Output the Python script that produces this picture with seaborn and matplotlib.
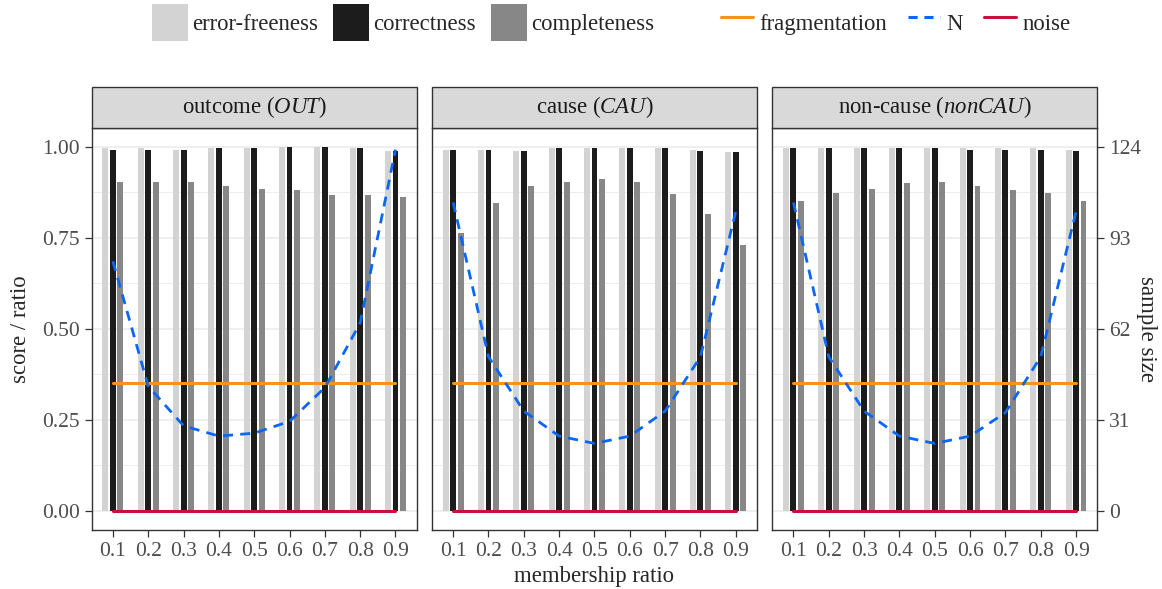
import numpy as np
import pandas as pd
import matplotlib
matplotlib.use("Agg")
import matplotlib.pyplot as plt
import seaborn as sns
from matplotlib.patches import Rectangle, Patch
from matplotlib.lines import Line2D

# membership ratios (x categories)
ratios = ["0.1", "0.2", "0.3", "0.4", "0.5", "0.6", "0.7", "0.8", "0.9"]
metrics = ["error-freeness", "correctness", "completeness"]

# outcome (OUT)
out_error_free = [0.995, 0.995, 0.992, 0.997, 0.997, 1.000, 1.000, 0.997, 0.989]
out_correct    = [0.992, 0.992, 0.992, 0.997, 0.997, 1.000, 1.000, 0.997, 0.989]
out_complete   = [0.902, 0.902, 0.904, 0.893, 0.885, 0.880, 0.866, 0.866, 0.863]
out_n          = [85, 42.5, 29, 25.5, 26.5, 30.5, 42, 64, 123]

# cause (CAU)
cau_error_free = [0.992, 0.992, 0.989, 0.997, 0.995, 0.995, 0.995, 0.992, 0.984]
cau_correct    = [0.992, 0.992, 0.989, 0.995, 0.995, 0.995, 0.995, 0.989, 0.984]
cau_complete   = [0.762, 0.844, 0.893, 0.904, 0.910, 0.902, 0.869, 0.814, 0.730]
cau_n          = [105, 52.5, 34, 25.5, 23, 25.5, 34, 52.5, 102]

# non-cause (nonCAU)
non_error_free = [0.995, 0.995, 0.997, 0.995, 0.995, 0.995, 0.995, 0.995, 0.992]
non_correct    = [0.995, 0.995, 0.997, 0.995, 0.995, 0.992, 0.992, 0.992, 0.989]
non_complete   = [0.852, 0.872, 0.883, 0.899, 0.902, 0.893, 0.880, 0.874, 0.850]
non_n          = [105, 52.5, 34, 25.5, 23, 25.5, 33.5, 52.5, 102]

fragmentation = [0.35, 0.35, 0.35, 0.35, 0.35, 0.35, 0.35, 0.35, 0.35]
noise         = [0.0, 0.0, 0.0, 0.0, 0.0, 0.0, 0.0, 0.0, 0.0]

panel_titles = ["outcome ($\\mathit{OUT}$)", "cause ($\\mathit{CAU}$)",
                "non-cause ($\\mathit{nonCAU}$)"]
panel_bars = [(out_error_free, out_correct, out_complete),
              (cau_error_free, cau_correct, cau_complete),
              (non_error_free, non_correct, non_complete)]
panel_n = [out_n, cau_n, non_n]

bar_colors = ["#D3D3D3", "#1C1C1C", "#878787"]
c_frag, c_n, c_noise = "#F0961E", "#0A66F5", "#C8103C"
n_max = 124

sns.set_theme(style="white")
plt.rcParams["font.family"] = ["Liberation Serif", "DejaVu Serif"]
plt.rcParams["mathtext.fontset"] = "custom"
plt.rcParams["mathtext.rm"] = "Liberation Serif"
plt.rcParams["mathtext.it"] = "Liberation Serif:italic"

fs_tick = 15.5
fs_text = 16.4
fig, axes = plt.subplots(1, 3, figsize=(11.62, 5.89), dpi=100)
fig.subplots_adjust(left=0.0789, right=0.9443, bottom=0.1002, top=0.7832, wspace=0.047)

ylim = (-0.052, 1.052)
strip_h = 40.4 / 402.3
pos = np.arange(len(ratios))
tick_kw = dict(length=5, width=0.9, color="#333333", labelsize=fs_tick,
               labelcolor="#4D4D4D", pad=3.5)

for i, ax in enumerate(axes):
    ef, co, cm = panel_bars[i]
    df = pd.DataFrame({
        "ratio": ratios * 3,
        "metric": [m for m in metrics for _ in ratios],
        "value": list(ef) + list(co) + list(cm),
    })
    # grid
    ax.set_axisbelow(True)
    ax.set_yticks([0, 0.25, 0.5, 0.75, 1.0])
    ax.set_yticks(np.arange(0.125, 1.0, 0.25), minor=True)
    ax.grid(axis="y", which="major", color="#EBEBEB", lw=1.1)
    ax.grid(axis="y", which="minor", color="#EBEBEB", lw=0.6)
    ax.grid(axis="x", which="major", color="#EBEBEB", lw=1.1)

    sns.barplot(data=df, x="ratio", y="value", hue="metric", hue_order=metrics,
                palette=bar_colors, width=0.63, gap=0.2, saturation=1,
                errorbar=None, linewidth=0, legend=False, ax=ax)
    sns.lineplot(x=pos, y=fragmentation, color=c_frag, lw=2.2, ax=ax, zorder=5)
    sns.lineplot(x=pos, y=noise, color=c_noise, lw=2.2, ax=ax, zorder=5)

    ax.set_xlim(-0.6, 8.6)
    ax.set_ylim(*ylim)
    ax.set_xticks(pos)
    ax.set_xticklabels(ratios)
    ax.set_xlabel("")
    ax.set_ylabel("")
    ax.tick_params(axis="x", bottom=True, **tick_kw)
    ax.tick_params(axis="y", which="minor", length=0)
    if i == 0:
        ax.tick_params(axis="y", which="major", left=True, **tick_kw)
    else:
        ax.tick_params(axis="y", which="major", length=0, labelleft=False)
    for s in ax.spines.values():
        s.set_color("#333333")
        s.set_linewidth(1.0)

    # strip
    ax.add_patch(Rectangle((0, 1), 1, strip_h, transform=ax.transAxes,
                           facecolor="#D9D9D9", edgecolor="#333333", lw=1.0,
                           clip_on=False, zorder=10))
    ax.text(0.5, 1 + strip_h / 2, panel_titles[i], transform=ax.transAxes,
            ha="center", va="center", fontsize=fs_text, color="#1A1A1A", zorder=11)

    # sample size on secondary axis
    tw = ax.twinx()
    sns.lineplot(x=pos, y=panel_n[i], color=c_n, lw=2.0,
                 linestyle=(0, (3.6, 2.6)), ax=tw)
    tw.set_ylim(ylim[0] * n_max, ylim[1] * n_max)
    tw.set_xlim(-0.6, 8.6)
    tw.grid(False)
    tw.set_ylabel("")
    for s in tw.spines.values():
        s.set_visible(False)
    if i == 2:
        tw.set_yticks([0, 31, 62, 93, 124])
        tw.tick_params(axis="y", right=True, **tick_kw)
    else:
        tw.set_yticks([])

axes[1].set_xlabel("membership ratio", fontsize=fs_text, labelpad=4)
fig.text(21 / 1162, 1 - 329 / 589, "score / ratio", rotation=90,
         ha="center", va="center", fontsize=fs_text)
fig.text(1147 / 1162, 1 - 329 / 589, "sample size", rotation=270,
         ha="center", va="center", fontsize=fs_text)

# legends
bar_handles = [Patch(facecolor=c, edgecolor="none") for c in bar_colors]
fig.legend(bar_handles, metrics, loc="upper left",
           bbox_to_anchor=(152 / 1162, 1 - 4 / 589), ncol=3, frameon=False,
           fontsize=fs_text, handlelength=1.58, handleheight=2.12, handletextpad=0.18,
           columnspacing=0.66, borderpad=0, borderaxespad=0)
line_handles = [Line2D([], [], color=c_frag, lw=2.2),
                Line2D([], [], color=c_n, lw=2.2, linestyle=(0, (3.0, 2.2))),
                Line2D([], [], color=c_noise, lw=2.2)]
fig.legend(line_handles, ["fragmentation", "N", "noise"], loc="upper left",
           bbox_to_anchor=(721 / 1162, 1 - 4 / 589), ncol=3, frameon=False,
           fontsize=fs_text, handlelength=1.4, handleheight=2.12, handletextpad=0.27,
           columnspacing=0.95, borderpad=0, borderaxespad=0)

fig.savefig("out.png", dpi=100)
